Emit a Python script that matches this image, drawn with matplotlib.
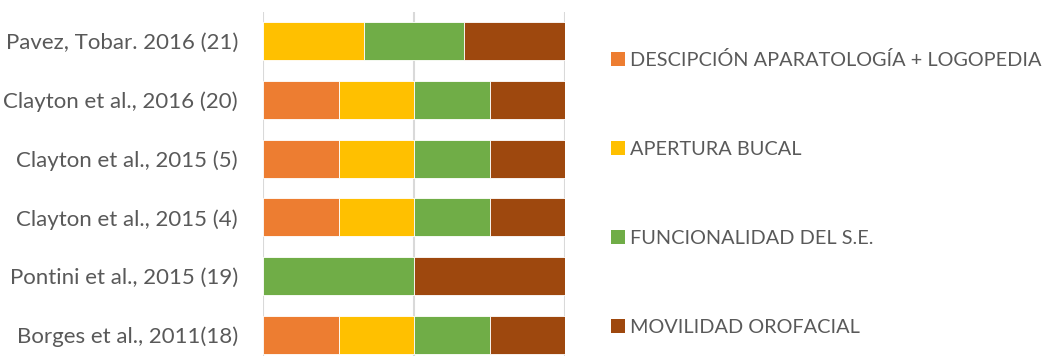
import numpy as np
import matplotlib.pyplot as plt
from matplotlib.patches import Patch

plt.rcParams['font.family'] = ['Lato', 'DejaVu Sans']

studies = ['Borges et al., 2011(18)', 'Pontini et al., 2015 (19)', 'Clayton et al., 2015 (4)',
           'Clayton et al., 2015 (5)', 'Clayton et al., 2016 (20)', 'Pavez, Tobar. 2016 (21)']
series = ['DESCIPCIÓN APARATOLOGÍA + LOGOPEDIA', 'APERTURA BUCAL',
          'FUNCIONALIDAD DEL S.E.', 'MOVILIDAD OROFACIAL']
descripcion = [1, 0, 1, 1, 1, 0]
apertura = [1, 0, 1, 1, 1, 1]
funcionalidad = [1, 1, 1, 1, 1, 1]
movilidad = [1, 1, 1, 1, 1, 1]
colors = ['#ED7D31', '#FFC000', '#70AD47', '#9E480E']

data = np.array([descripcion, apertura, funcionalidad, movilidad], dtype=float)
share = data / data.sum(axis=0)

fig = plt.figure(figsize=(10.5, 3.56), dpi=100)
ax = fig.add_axes([0.2505, -0.0225, 0.2876, 0.9888])

y = np.arange(len(studies))
left = np.zeros(len(studies))
for vals, c in zip(share, colors):
    ax.barh(y, vals, left=left, height=0.65, color=c, edgecolor='white', linewidth=0.6, zorder=2)
    left += vals

ax.set_xlim(0, 1)
ax.set_ylim(-0.5, 5.5)
ax.set_xticks([0, 0.5, 1])
ax.set_xticklabels([])
ax.tick_params(axis='x', length=0)
ax.tick_params(axis='y', length=0, pad=18, labelsize=16, labelcolor='#595959')
ax.set_yticks(y)
ax.set_yticklabels(studies)
ax.grid(axis='x', color='#D9D9D9', linewidth=1.5, zorder=0)
for s in ax.spines.values():
    s.set_visible(False)

handles = [Patch(facecolor=c, edgecolor='none') for c in colors]
fig.legend(handles, series, loc='upper left', bbox_to_anchor=(0.5645, 0.906),
           frameon=False, fontsize=14.3, labelcolor='#595959', labelspacing=3.62,
           handlelength=0.7, handleheight=0.7, handletextpad=0.3)

plt.savefig('out.png', dpi=100, facecolor='white')
